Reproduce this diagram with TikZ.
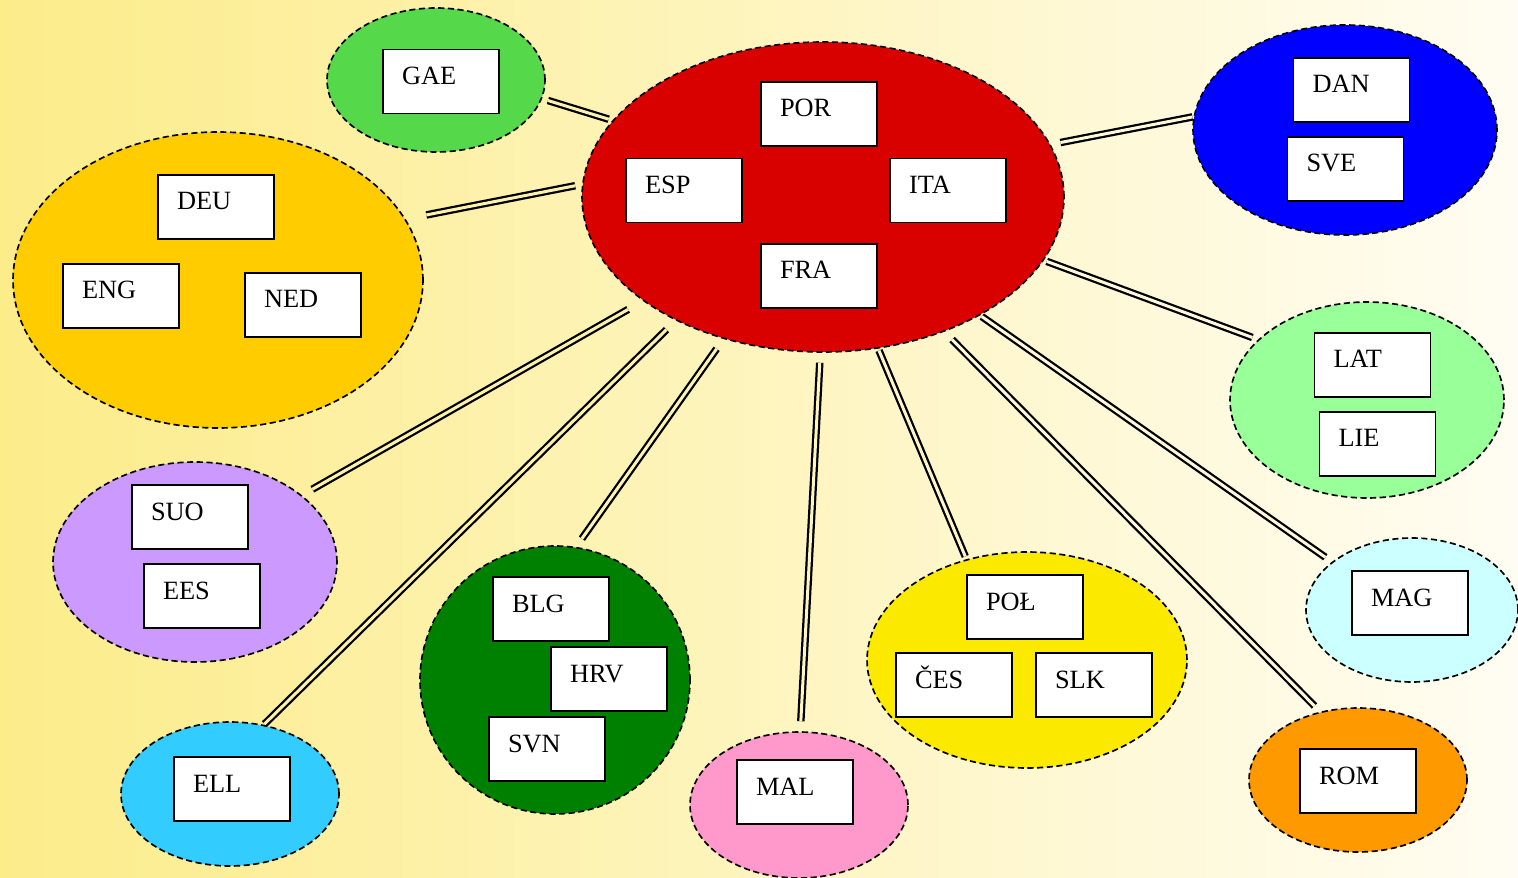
\documentclass[tikz,border=0pt]{standalone}
\usepackage{fontspec}
\setmainfont{Liberation Serif}
\usetikzlibrary{shapes.geometric}

\definecolor{bgl}{RGB}{252,236,138}
\definecolor{bgr}{RGB}{255,253,243}
\definecolor{celticc}{RGB}{85,216,74}
\definecolor{romancec}{RGB}{217,0,0}
\definecolor{nordicc}{RGB}{0,0,255}
\definecolor{germanicc}{RGB}{255,204,0}
\definecolor{balticc}{RGB}{153,255,153}
\definecolor{finnicc}{RGB}{204,153,255}
\definecolor{southslavc}{RGB}{0,128,0}
\definecolor{maltesec}{RGB}{255,153,204}
\definecolor{westslavc}{RGB}{252,233,0}
\definecolor{hungarianc}{RGB}{204,255,255}
\definecolor{romanianc}{RGB}{255,153,0}
\definecolor{greekc}{RGB}{51,204,255}

\tikzset{
  blob/.style={ellipse, draw, fill=#1, inner sep=0pt, line width=0.95pt, dash pattern=on 3.5pt off 2pt},
  lang/.style={rectangle, draw, fill=white, line width=1.1pt, inner xsep=0.38cm, inner ysep=0.36cm,
    text width=1.56cm, align=left, text height=0.34cm, text depth=0.22cm,
    font=\fontsize{15pt}{17pt}\selectfont},
  link/.style={line width=0.045cm, double=#1, double distance=0.06cm}
}

\begin{document}
\begin{tikzpicture}[x=0.02cm, y=-0.02cm]
	\useasboundingbox (0,0) rectangle (1518,878);
	\shade[left color=bgl, right color=bgr] (0,0) rectangle (1518,878);

	\node[blob=celticc, minimum width=4.36cm, minimum height=2.88cm] (celtic) at (436,80) {};
	\node[blob=romancec, minimum width=9.64cm, minimum height=6.2cm] (romance) at (823,197) {};
	\node[blob=nordicc, minimum width=6.08cm, minimum height=4.2cm] (nordic) at (1345,130) {};
	\node[blob=germanicc, minimum width=8.2cm, minimum height=5.92cm] (germanic) at (218,280) {};
	\node[blob=balticc, minimum width=5.48cm, minimum height=3.92cm] (baltic) at (1367,400) {};
	\node[blob=finnicc, minimum width=5.68cm, minimum height=4.0cm] (finnic) at (195,562) {};
	\node[blob=southslavc, minimum width=5.4cm, minimum height=5.36cm] (southslav) at (555,680) {};
	\node[blob=maltesec, minimum width=4.36cm, minimum height=2.92cm] (maltese) at (799,805) {};
	\node[blob=westslavc, minimum width=6.4cm, minimum height=4.32cm] (westslav) at (1027,660) {};
	\node[blob=hungarianc, minimum width=4.24cm, minimum height=2.88cm] (hungarian) at (1412,610) {};
	\node[blob=romanianc, minimum width=4.36cm, minimum height=2.88cm] (romanian) at (1358,780) {};
	\node[blob=greekc, minimum width=4.36cm, minimum height=2.88cm] (greek) at (230,794) {};

	\draw[link=bgl!62!bgr, shorten <=0.12cm, shorten >=0.08cm] (celtic.-10.2) -- (romance.160.9);
	\draw[link=bgl!67!bgr, shorten <=0.42cm, shorten >=0.14cm] (germanic.18.7) -- (romance.177.9);
	\draw[link=bgl!26!bgr, shorten <=0.2cm, shorten >=0.02cm] (romance.13.3) -- (nordic.175.5);
	\draw[link=bgl!24!bgr, shorten <=0.06cm, shorten >=0.12cm] (romance.-16.3) -- (baltic.151.3);
	\draw[link=bgl!24!bgr, shorten <=0.04cm, shorten >=0.16cm] (romance.-37.4) -- (hungarian.149.1);
	\draw[link=bgl!25!bgr, shorten <=0.22cm, shorten >=0.16cm] (romance.-48.4) -- (romanian.119.25);
	\draw[link=bgl!39!bgr, shorten <=0.04cm, shorten >=0.06cm] (romance.-70.2) -- (westslav.121.9);
	\draw[link=bgl!47!bgr, shorten <=0.2cm, shorten >=0.2cm] (romance.-91.7) -- (maltese.89.3);
	\draw[link=bgl!57!bgr, shorten <=0.24cm, shorten >=0.2cm] (romance.-125.1) -- (southslav.81.25);
	\draw[link=bgl!69!bgr, shorten <=0.26cm, shorten >=0.02cm] (romance.-140.3) -- (greek.64.75);
	\draw[link=bgl!69!bgr, shorten <=0.34cm, shorten >=0.24cm] (romance.-150.5) -- (finnic.32.8);

	\node[lang] (gae) at (441,81.5) {GAE};
	\node[lang] (por) at (819,114) {POR};
	\node[lang] (esp) at (684,190.5) {ESP};
	\node[lang] (ita) at (948,190.5) {ITA};
	\node[lang] (fra) at (819,276) {FRA};
	\node[lang] (dan) at (1351.5,90) {DAN};
	\node[lang] (sve) at (1345.5,169) {SVE};
	\node[lang] (deu) at (216,207) {DEU};
	\node[lang] (eng) at (121,296) {ENG};
	\node[lang] (ned) at (303,305) {NED};
	\node[lang] (lat) at (1372.5,365) {LAT};
	\node[lang] (lie) at (1377.5,444) {LIE};
	\node[lang] (suo) at (190,517) {SUO};
	\node[lang] (ees) at (202,596) {EES};
	\node[lang] (blg) at (551,609) {BLG};
	\node[lang] (hrv) at (609,679) {HRV};
	\node[lang] (svn) at (547,749) {SVN};
	\node[lang] (pol) at (1025,607) {POŁ};
	\node[lang] (ces) at (954,685) {ČES};
	\node[lang] (slk) at (1094,685) {SLK};
	\node[lang] (mag) at (1410,603) {MAG};
	\node[lang] (rom) at (1358,781) {ROM};
	\node[lang] (mal) at (795,792) {MAL};
	\node[lang] (ell) at (232,789) {ELL};
\end{tikzpicture}
\end{document}
